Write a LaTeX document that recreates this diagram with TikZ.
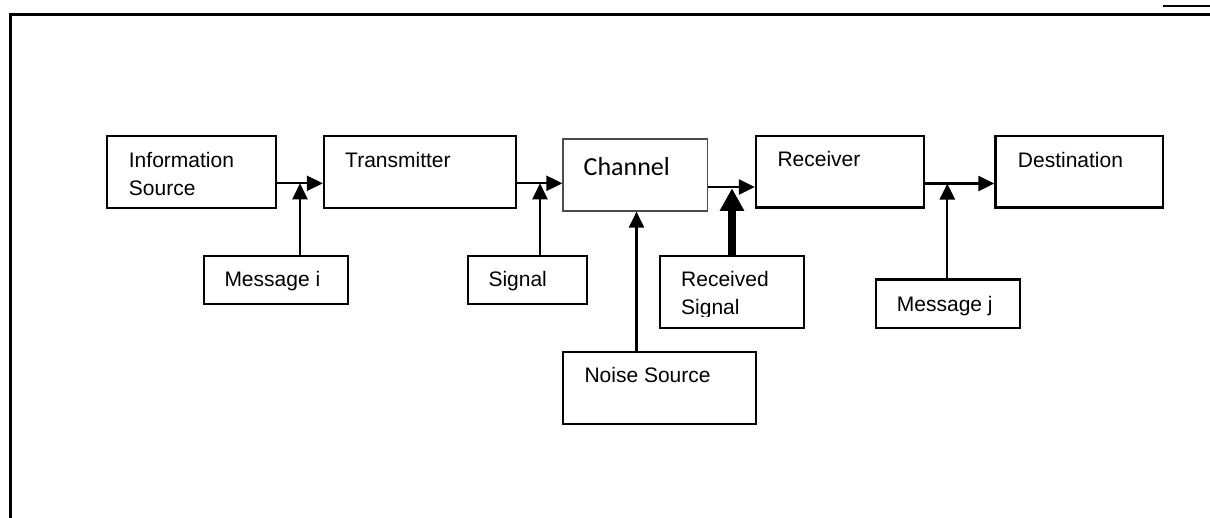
\documentclass[tikz,border=0pt]{standalone}
\usepackage{fontspec}
\setmainfont{Liberation Sans}
\newfontfamily\chanfont{Carlito}
\usetikzlibrary{arrows.meta}
\begin{document}
\begin{tikzpicture}[x=1pt,y=-1pt,
  box/.style={draw, line width=2.3pt, inner sep=0pt},
  lbl/.style={anchor=base west, inner sep=0pt, font=\fontsize{21}{25}\selectfont},
  arr/.style={line width=2.3pt, -{Triangle[length=16pt,width=15pt]}},
  thickarr/.style={line width=7.3pt, -{Triangle[length=22.5pt,width=23pt]}},
]
\useasboundingbox (0,0) rectangle (1210,517);
% frame
\draw[line width=2.3pt] (10.5,520) -- (10.5,14.5) -- (1214,14.5);
\draw[line width=1.5pt] (1163,6) -- (1212,6);

% boxes
\node[box, minimum width=169pt, minimum height=72pt] (info) at (191.5,172) {};
\node[box, minimum width=192pt, minimum height=72pt] (trans) at (420,172) {};
\node[draw=black!70, line width=1.2pt, inner sep=0pt, minimum width=144.5pt, minimum height=72pt] (chan) at (635.25,175) {};
\node[box, minimum width=168pt, minimum height=71.5pt] (recv) at (840,171.75) {};
\node[box, minimum width=167.5pt, minimum height=71.5pt] (dest) at (1079.25,171.75) {};
\node[box, minimum width=144pt, minimum height=48pt] (msgi) at (276,280) {};
\node[box, minimum width=119pt, minimum height=48pt] (signal) at (527.5,280) {};
\node[box, minimum width=144pt, minimum height=72pt] (rsig) at (732,292) {};
\node[box, minimum width=144pt, minimum height=48.5pt] (msgj) at (948,303.75) {};
\node[box, minimum width=193pt, minimum height=72pt] (noise) at (659.5,388) {};

% texts
\node[lbl] (tinfo1) at (128.7,167.7) {Information};
\node[lbl] (tinfo2) at (128.7,195) {Source};
\node[lbl] (ttrans) at (345,167.7) {Transmitter};
\node[lbl] (tmsgi) at (224.3,286.7) {Message i};
\node[lbl] (tsig) at (488.3,286.7) {Signal};
\node[anchor=base west, inner sep=0pt, font=\chanfont\fontsize{26}{30}\selectfont] (tchan) at (583.5,175) {Channel};
\node[lbl] (trecv) at (777.3,166.7) {Receiver};
\node[lbl] (tdest) at (1017.7,167) {Destination};
\node[lbl] (trsig1) at (681,286.7) {Received};
\begin{scope}
  \clip (660,250) rectangle (804,316.5);
  \node[lbl] (trsig2) at (681,314.3) {Signal};
\end{scope}
\node[lbl] (tmsgj) at (896.7,311.7) {Message j};
\node[lbl] (tnoise) at (584.3,382.7) {Noise Source};

% junctions
\coordinate (j1) at (300,183.3);
\coordinate (j2) at (540,183.3);
\coordinate (j3) at (732,188.3);
\coordinate (j4) at (947.3,183.5);
\coordinate (j5) at (636.5,0);

% main chain
\draw[arr] (info.east |- j1) -- (trans.west |- j1);
\draw[arr] (trans.east |- j2) -- (chan.west |- j2);
\draw[arr] (chan.east |- 0,187) -- (recv.west |- 0,187);
\draw[arr] (recv.east |- j4) -- (dest.west |- j4);

% side inputs
\draw[arr] (msgi.north -| j1) -- (j1);
\draw[arr] (signal.north -| j2) -- (j2);
\draw[thickarr] (rsig.north -| j3) -- (j3);
\draw[arr] (msgj.north -| j4) -- (j4);
\draw[arr] (noise.north -| j5) -- (chan.south -| j5);
\end{tikzpicture}
\end{document}
